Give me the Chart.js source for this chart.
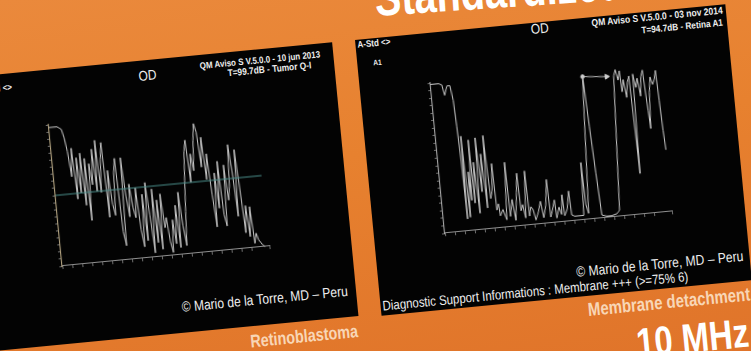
<!DOCTYPE html>
<html><head><meta charset="utf-8">
<script src="https://cdn.jsdelivr.net/npm/chart.js@4/dist/chart.umd.min.js"></script>
<style>
html,body{margin:0;padding:0;width:751px;height:351px;overflow:hidden;background:#e57f30;}
#stage{position:absolute;left:0;top:0;width:751px;height:351px;overflow:hidden;
  background:linear-gradient(172deg,#ea893c 0%,#e7812f 45%,#e0742a 100%);}
#rot{position:absolute;left:0;top:0;width:751px;height:351px;transform-origin:355px 40px;transform:rotate(-5.5deg);z-index:2;}
.panel{position:absolute;background:#030303;overflow:hidden;}
.t{position:absolute;white-space:nowrap;font-family:"Liberation Sans",Arial,sans-serif;color:#eeeeee;line-height:1;transform-origin:0 0;}
canvas{position:absolute;}
</style></head>
<body>
<div id="stage"><div id="rot">
  <div class="panel" id="lp" style="left:-38px;top:40px;width:370px;height:275px;">
    <canvas id="lc" width="230" height="165" style="left:70px;top:45px;width:230px;height:165px;"></canvas>
  </div>
  <div class="panel" id="rp" style="left:355px;top:40px;width:372px;height:277px;">
    <canvas id="rc" width="250" height="175" style="left:61px;top:40px;width:250px;height:175px;"></canvas>
  </div>
</div></div>
<script>
// ---- data (x in axis units, y in % amplitude) ----
const leftX = [0,2,4,6,8,10,12,14,16,18,20,22,24,26,28,30,32,34,36,38,40,42,44,46,48,50,52,54,56,58,60,62,64,66,68,70,72,74,76,78,80,82,84,86,88,90,92,94,96,98,100,102,104,106,108,110,112,114,116,118,120,122,124,126,128,130,132,134,136,138,140,142,144,146,148,150,152,154,156,158,160,162,164,166,168,170,172,174,176,178,180,182,184,186,188,190,192,194,196,198,200,202,204];
const leftY = [98,98,98,98,98,97,96,90,80,62,82,46,75,50,78,41,74,30,70,55,80,50,86,49,72,84,31,64,40,32,62,72,20,10,72,45,30,53,36,29,50,20,8,45,12,53,30,3,48,10,40,5,44,20,27,10,2,25,8,35,5,44,20,6,30,52,72,80,50,70,58,79,91,85,60,81,51,69,40,17,55,30,63,25,17,60,35,45,74,55,23,70,43,11,30,8,29,3,10,5,3,1,0];
const leftThresholdX = [0,207];
const leftThresholdY = [50,50];

const rightX = [0,4,8,11,13,16,19,21,22,23,24,25,27,29,30,32,33,35,37,39,41,43,45,47,49,51,53,54,56,57,60,63,66,67,70,72,75,77,78,80,82,85,86,88,90,92,95,98,100,103,106,107,109,112,113,116,118,120,121,124,127,128,131,136,140,142,143,145,152,154,156,158,163,168,173,176,183,185,187,189,190,192,194,196,198,200,202,204,206,208,210,212,214,215,217,219,221,223,225,226,227,228];
const rightY = [99,99,99,98,91,97,97,87,70,47,8,63,9,39,20,60,18,45,11,61,25,50,14,62,20,25,43,12,16,8,12,5,43,7,18,4,22,35,10,14,5,36,6,12,10,3,8,15,4,12,29,4,8,15,3,10,5,18,4,8,20,4,3,3,3,38,10,4,96,61,30,2,1,1,2,4,93,97,90,96,82,90,78,88,92,27,93,84,90,78,91,95,68,56,80,90,85,88,94,74,54,41];
const rightMarkerX = [152,176];
const rightMarkerY = [94.5,93];

const leftXMax = 208, rightXMax = 228;

function pts(xs, ys){ return xs.map((x,i)=>({x:x, y:ys[i]})); }

function axis(max, step, border){
  return {type:'linear', min:0, max:max,
    ticks:{display:false, stepSize:step},
    grid:{drawOnChartArea:false, drawTicks:true, tickLength:3, color:'#6f6f6f', lineWidth:1},
    border:{display:true, color:border, width:1.1}};
}
function makeChart(id, datasets, xmax, pad, ycolor){
  return new Chart(document.getElementById(id), {
    type:'line',
    data:{datasets:datasets},
    options:{responsive:false, animation:false, devicePixelRatio:1,
      layout:{padding:pad},
      plugins:{legend:{display:false}, tooltip:{enabled:false}},
      elements:{point:{radius:0}, line:{tension:0}},
      scales:{x:axis(xmax,10,'#8e8e8e'), y:axis(100,5,ycolor)}}
  });
}
makeChart('lc', [
  {data:pts(leftThresholdX,leftThresholdY), borderColor:'#488c87', borderWidth:1.1, clip:false},
  {data:pts(leftX,leftY), borderColor:'#c9c9c9', borderWidth:1, clip:false}
], leftXMax, {left:7,top:10,right:12,bottom:10}, '#b0a07e');
makeChart('rc', [
  {data:pts(rightX,rightY), borderColor:'#c9c9c9', borderWidth:1, clip:false},
  {data:pts(rightMarkerX,rightMarkerY), borderColor:'#bdbdbd', borderWidth:1,
   pointRadius:[1.8,2.8], pointStyle:['circle','triangle'], rotation:[0,90],
   pointBackgroundColor:'#cfcfcf', pointBorderColor:'#cfcfcf', clip:false}
], rightXMax, {left:7,top:10,right:12,bottom:11}, '#a5a5a5');

// ---- text ----
function place(parent, txt, o){
  const sx = o.sx || 0.86;
  const d = document.createElement('div');
  d.className = 't';
  d.textContent = txt;
  d.style.fontWeight = o.bold ? '700' : '400';
  if (o.color) d.style.color = o.color;
  if (o.z != null) d.style.zIndex = o.z;
  d.style.fontSize = '20px';
  parent.appendChild(d);
  let w;
  if (o.measure){
    const m = document.createElement('div');
    m.className='t'; m.style.fontWeight=d.style.fontWeight; m.style.fontSize='20px';
    m.textContent=o.measure; parent.appendChild(m); w=m.offsetWidth; parent.removeChild(m);
  } else w = d.offsetWidth;
  const fs = 20*o.width/(w*sx);
  d.style.fontSize = fs+'px';
  d.style.transform = (o.rot ? 'rotate('+o.rot+'deg) ' : '') + 'scaleX('+sx+')';
  const ww = d.offsetWidth*sx;
  let left = o.anchor==='right' ? o.x-ww : (o.anchor==='center' ? o.x-ww/2 : o.x);
  let top = (o.base!=null) ? o.base-0.86*fs : o.cy-0.5*fs;
  d.style.left = left+'px'; d.style.top = top+'px';
}
const lp = document.getElementById('lp'), rp = document.getElementById('rp'),
      rot = document.getElementById('rot'), stage = document.getElementById('stage');
// right panel
place(rp,'A-Std <>',{x:2,cy:6,width:33,anchor:'left',bold:true});
place(rp,'A1',{x:20,cy:24.6,width:8.5,anchor:'center',bold:true});
place(rp,'OD',{x:185,cy:7,width:18,anchor:'center'});
place(rp,'QM  Aviso S V.5.0.0 - 03 nov 2014',{x:369,cy:5.5,width:132,anchor:'right',bold:true});
place(rp,'T=94.7dB - Retina A1',{x:368,cy:17.5,width:82,anchor:'right',bold:true});
place(rp,'\u00A9 Mario de la Torre, MD \u2013 Peru',{x:198,cy:252,width:168,anchor:'left',sx:0.84});
place(rp,'Diagnostic Support Informations : Membrane +++ (>=75% 6)',{x:2,cy:268,width:307,anchor:'left',sx:0.84});
// left panel
place(lp,'A-Std <>',{x:47,cy:14.5,width:33,anchor:'right',bold:true});
place(lp,'OD',{x:183,cy:16,width:18,anchor:'center'});
place(lp,'QM  Aviso S V.5.0.0 - 10 jun 2013',{x:357,cy:11.5,width:121,anchor:'right',bold:true});
place(lp,'T=99.7dB - Tumor Q-I',{x:347.5,cy:21,width:84,anchor:'right',bold:true});
place(lp,'\u00A9 Mario de la Torre, MD \u2013 Peru',{x:195,cy:249,width:167,anchor:'left',sx:0.84});
// poster text
place(stage,'Standardized',{x:373,base:18,width:202,measure:'Standardiz',anchor:'left',bold:true,color:'#ffffff',sx:0.78,rot:-3.8,z:1});
place(rot,'Retinoblastoma',{x:275.8,cy:329.7,width:108,anchor:'center',bold:true,color:'#f8d6b6',sx:0.8});
place(rot,'Membrane detachment',{x:561,cy:331,width:163,anchor:'left',bold:true,color:'#f8d6b6',sx:0.8});
place(rot,'10 MHz',{x:606,base:384,width:113,anchor:'left',bold:true,color:'#ffffff',sx:0.8});
</script>
</body></html>
